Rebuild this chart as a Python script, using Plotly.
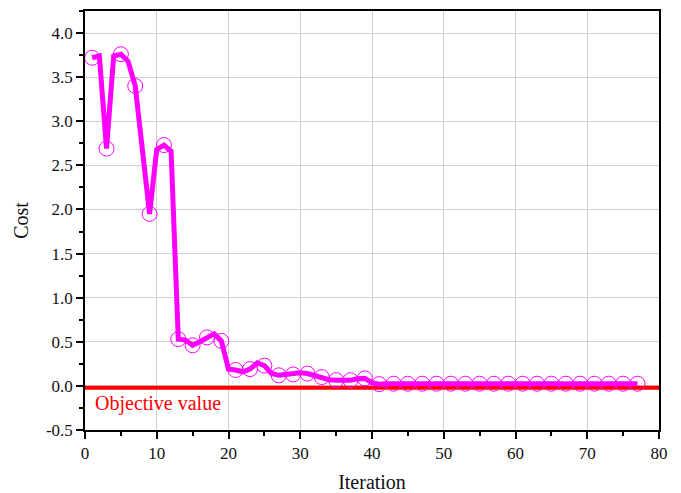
import plotly.graph_objects as go

iteration = list(range(1, 78))
cost = [3.72, 3.74, 2.69, 3.74, 3.76, 3.68, 3.40, 2.68, 1.95, 2.68,
        2.73, 2.66, 0.53, 0.52, 0.46, 0.50, 0.55, 0.59, 0.51, 0.19,
        0.18, 0.16, 0.19, 0.26, 0.23, 0.14, 0.12, 0.13, 0.13, 0.15,
        0.14, 0.12, 0.10, 0.07, 0.065, 0.065, 0.065, 0.08, 0.085, 0.035,
        0.02, 0.025, 0.025, 0.025, 0.025, 0.025, 0.025, 0.025, 0.025, 0.025,
        0.025, 0.025, 0.025, 0.025, 0.025, 0.025, 0.025, 0.025, 0.025, 0.025,
        0.025, 0.025, 0.025, 0.025, 0.025, 0.025, 0.025, 0.025, 0.025, 0.025,
        0.025, 0.025, 0.025, 0.025, 0.025, 0.025, 0.025]
marker_iter = iteration[::2]
marker_cost = cost[::2]

objective_x = [0, 80]
objective_y = [-0.02, -0.02]
objective_label = "Objective value"

x_ticks = [0, 10, 20, 30, 40, 50, 60, 70, 80]
y_ticks = [-0.5, 0.0, 0.5, 1.0, 1.5, 2.0, 2.5, 3.0, 3.5, 4.0]

MAG = "#FF00FF"
FONT = "Times New Roman, Liberation Serif, DejaVu Serif, serif"

fig = go.Figure()
fig.add_trace(go.Scatter(x=objective_x, y=objective_y, mode="lines",
                         line=dict(color="#FF0000", width=4), showlegend=False,
                         hoverinfo="skip"))
fig.add_trace(go.Scatter(x=iteration, y=cost, mode="lines",
                         line=dict(color=MAG, width=5), showlegend=False))
fig.add_trace(go.Scatter(x=marker_iter, y=marker_cost, mode="markers",
                         marker=dict(symbol="circle-open", size=15, color=MAG,
                                     line=dict(color=MAG, width=1)),
                         showlegend=False))

fig.add_annotation(x=1.1, y=-0.2, xref="x", yref="y", text=objective_label,
                   showarrow=False, xanchor="left", yanchor="middle",
                   font=dict(family=FONT, size=20, color="#FF0000"))

axis_common = dict(showline=True, linecolor="black", linewidth=1.5, mirror=True,
                   showgrid=True, gridcolor="#d0d0d0", gridwidth=1,
                   zeroline=False, ticks="outside", ticklen=7, tickwidth=1.5,
                   tickcolor="black", tickfont=dict(family=FONT, size=17, color="#111"))

fig.update_xaxes(range=[0, 80], tickvals=x_ticks,
                 ticktext=[str(v) for v in x_ticks],
                 minor=dict(dtick=5, tick0=0, ticks="outside", ticklen=4,
                            tickwidth=1.5, tickcolor="black", showgrid=False),
                 title=dict(text="Iteration", font=dict(family=FONT, size=20, color="#111"),
                            standoff=15),
                 **axis_common)
fig.update_yaxes(range=[-0.5, 4.25], tickvals=y_ticks,
                 ticktext=[f"{v:.1f}" for v in y_ticks],
                 minor=dict(dtick=0.25, tick0=0, ticks="outside", ticklen=4,
                            tickwidth=1.5, tickcolor="black", showgrid=False),
                 title=dict(text="Cost", font=dict(family=FONT, size=20, color="#111"),
                            standoff=12),
                 **axis_common)

# page has an 8px body margin; figure sized to fit the 681x493 window
fig.update_layout(width=673, height=485,
                  margin=dict(l=77, r=22, t=1, b=63),
                  paper_bgcolor="white", plot_bgcolor="white",
                  font=dict(family=FONT))

fig.write_html("out.html")
